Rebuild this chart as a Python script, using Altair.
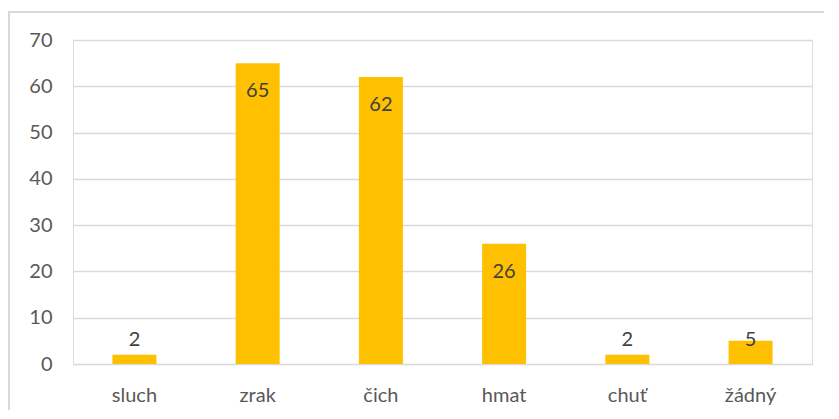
import altair as alt
import pandas as pd

categories = ["sluch", "zrak", "čich", "hmat", "chuť", "žádný"]
values = [2, 65, 62, 26, 2, 5]

df = pd.DataFrame({"cat": categories, "v": values})

FONT = "Lato"

x = alt.X("cat:N", sort=categories, title=None,
          scale=alt.Scale(paddingInner=0.643, paddingOuter=0.32),
          axis=alt.Axis(labelAngle=0, domain=False, ticks=False, labelFontSize=20,
                        labelColor="#595959", labelFont=FONT, labelPadding=21))
y = alt.Y("v:Q", title=None,
          scale=alt.Scale(domain=[0, 70], nice=False),
          axis=alt.Axis(values=[0, 10, 20, 30, 40, 50, 60, 70], domain=False, ticks=False,
                        gridColor="#d9d9d9", gridWidth=1.5, labelFontSize=20,
                        labelColor="#595959", labelFont=FONT, labelPadding=21))

bars = alt.Chart(df).mark_bar(color="#FFC000").encode(x=x, y=y)

labels = alt.Chart(df).transform_calculate(
    lp="max(datum.v - 6.05, 5.2)"
).mark_text(fontSize=20, font=FONT, color="#404040", baseline="middle").encode(
    x=alt.X("cat:N", sort=categories),
    y=alt.Y("lp:Q"),
    text="v:Q",
)

frame = alt.Chart(df).mark_rect(fill=None, stroke="#d9d9d9", strokeWidth=1.5).encode(
    x=alt.value(-64), x2=alt.value(790), y=alt.value(-28), y2=alt.value(400)
)

chart = alt.layer(frame, bars, labels).properties(
    width=739, height=324,
    autosize=alt.AutoSizeParams(type="none"),
    padding={"left": 65, "top": 32, "right": 12, "bottom": 46},
).configure_view(stroke=None).configure(background="white")

chart.save("out.html", embed_options={"renderer": "svg", "actions": False})
